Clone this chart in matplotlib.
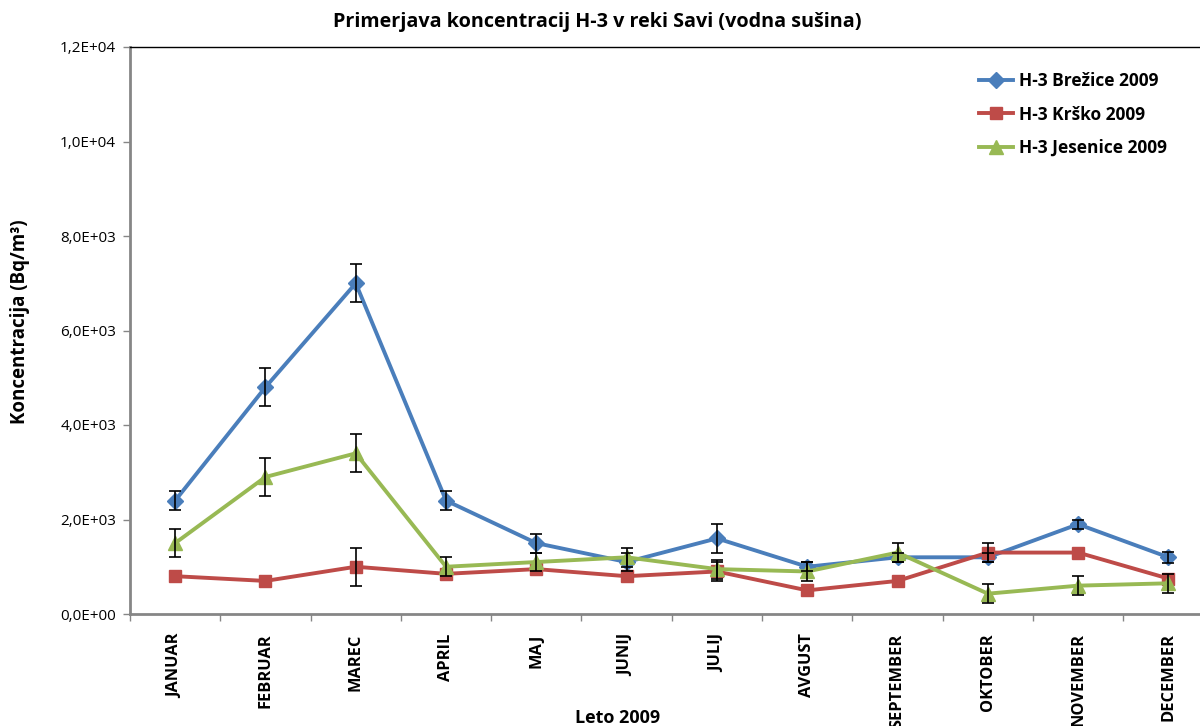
import numpy as np
import matplotlib.pyplot as plt

# --- DATA ---
months = ["JANUAR", "FEBRUAR", "MAREC", "APRIL", "MAJ", "JUNIJ", "JULIJ",
          "AVGUST", "SEPTEMBER", "OKTOBER", "NOVEMBER", "DECEMBER"]

brezice = [2400, 4800, 7000, 2400, 1500, 1100, 1600, 1000, 1200, 1200, 1900, 1200]
brezice_err = [200, 400, 400, 200, 200, 200, 300, 100, 100, 100, 100, 120]

krsko = [800, 700, 1000, 850, 950, 800, 900, 500, 700, 1300, 1300, 750]
krsko_err = [0, 0, 400, 0, 0, 0, 200, 0, 0, 200, 0, 0]

jesenice = [1500, 2900, 3400, 1000, 1100, 1200, 950, 900, 1300, 430, 600, 650]
jesenice_err = [300, 400, 400, 200, 200, 200, 200, 200, 200, 200, 200, 200]

yticks = [0, 2000, 4000, 6000, 8000, 10000, 12000]
ytick_labels = ["0,0E+00", "2,0E+03", "4,0E+03", "6,0E+03", "8,0E+03", "1,0E+04", "1,2E+04"]

# --- STYLE ---
plt.rcParams['font.family'] = ['Open Sans', 'DejaVu Sans']

series = [
    ("H-3 Brežice 2009", brezice, brezice_err, "#4A7EBB", "D", 8.5),
    ("H-3 Krško 2009", krsko, krsko_err, "#BE4B48", "s", 9),
    ("H-3 Jesenice 2009", jesenice, jesenice_err, "#98B954", "^", 10),
]

# --- PLOT ---
fig = plt.figure(figsize=(12, 7.26), dpi=100)
ax = fig.add_axes([130 / 1200, 1 - 614 / 726, 1083.6 / 1200, 567 / 726])

x = np.arange(len(months))
for label, vals, errs, color, marker, ms in series:
    vals = np.array(vals, dtype=float)
    errs = np.array(errs, dtype=float)
    ax.plot(x, vals, color=color, lw=2.8, marker=marker, ms=ms,
            label=label, zorder=3)
    m = errs > 0
    ax.errorbar(x[m], vals[m], yerr=errs[m], fmt="none", ecolor="black",
                elinewidth=1.2, capsize=4, capthick=1.2, zorder=4)

ax.set_xlim(-0.5, len(months) - 0.5)
ax.set_ylim(0, 12000)
ax.set_yticks(yticks)
ax.set_yticklabels(ytick_labels, fontsize=11)

ax.set_xticks(x)
ax.set_xticklabels(months, rotation=90, fontsize=11.8, fontweight="bold",
                   va="top", ha="center")
ax.set_xticks(np.arange(len(months) + 1) - 0.5, minor=True)
ax.tick_params(axis="x", which="major", length=0, pad=14)
ax.tick_params(axis="x", which="minor", length=5, color="#868686", width=1)
ax.tick_params(axis="y", length=5, color="#868686", width=1, pad=5)

for s in ["left", "bottom"]:
    ax.spines[s].set_color("#868686")
    ax.spines[s].set_linewidth(2)
ax.spines["top"].set_color("black")
ax.spines["top"].set_linewidth(1)
ax.spines["right"].set_visible(False)

fig.text(597 / 1200, 1 - 22 / 726, "Primerjava koncentracij H-3 v reki Savi (vodna sušina)",
         fontsize=14.2, fontweight="bold", ha="center", va="center")
fig.text(20 / 1200, 1 - 322 / 726, "Koncentracija (Bq/m³)", fontsize=13.5,
         fontweight="bold", rotation=90, ha="center", va="center")
fig.text(618 / 1200, 1 - 718 / 726, "Leto 2009", fontsize=13, fontweight="bold",
         ha="center", va="center")

ax.legend(loc="upper left", bbox_to_anchor=((963 - 130) / 1083.6, 0.983), frameon=False,
          prop={"weight": "bold", "size": 12.5},
          handlelength=2.0, labelspacing=0.88, handletextpad=0.3)

fig.savefig("out.png", dpi=100)
